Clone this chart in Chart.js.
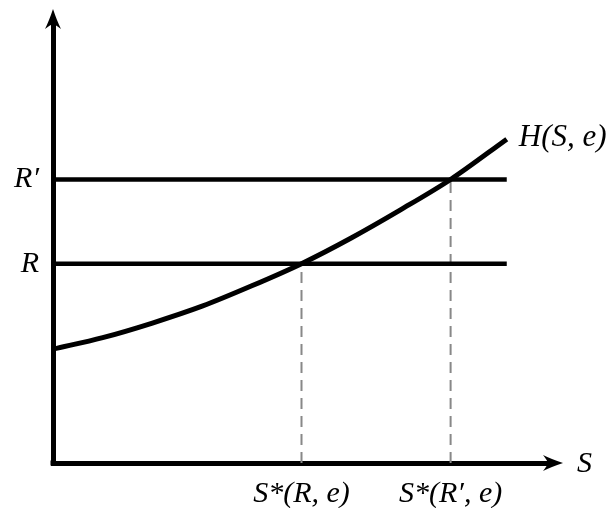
<!DOCTYPE html>
<html>
<head>
<meta charset="utf-8">
<script src="https://cdn.jsdelivr.net/npm/chart.js@4/dist/chart.umd.min.js"></script>
<style>
  body { margin: 0; background: #fff; }
  #wrap { width: 613px; height: 508px; }
</style>
</head>
<body>
<div id="wrap"><canvas id="myChart"></canvas></div>
<script>
// curve H(S, e)
const sValues = [0, 1, 2, 3, 4, 5, 6, 7, 8, 9.13];
const hValues = [2.57, 2.83, 3.16, 3.54, 4.0, 4.5, 5.08, 5.72, 6.4, 7.31];

// reservation levels R, R'
const rLevels = [4.5, 6.4];
const rLabels = ["R", "R\u2032"];

// crossing points S*(R, e), S*(R', e)
const sStar = [5, 8];
const sStarLabels = ["S*(R, e)", "S*(R\u2032, e)"];

const curveLabel = "H(S, e)";
const xAxisLabel = "S";

const serif = "'Liberation Serif', 'DejaVu Serif', serif";
const lineEnd = sValues[sValues.length - 1];

const datasets = [
  {
    label: curveLabel,
    data: sValues.map((s, i) => ({ x: s, y: hValues[i] })),
    borderColor: "#000",
    borderWidth: 5,
    cubicInterpolationMode: "monotone",
    pointRadius: 0,
    order: 1,
  },
];
rLevels.forEach((r, i) => {
  datasets.push({
    label: rLabels[i],
    data: [{ x: 0, y: r }, { x: lineEnd, y: r }],
    borderColor: "#000",
    borderWidth: 4.5,
    pointRadius: 0,
    order: 2,
  });
  datasets.push({
    label: sStarLabels[i],
    data: [{ x: sStar[i], y: 0 }, { x: sStar[i], y: r }],
    borderColor: "#888",
    borderWidth: 2,
    borderDash: [11, 7],
    pointRadius: 0,
    order: 3,
  });
});

function arrowHead(c, x, y, dir) {
  // LaTeX style arrow, dir "up" or "right"
  const len = 20, half = 8, notch = 15;
  c.save();
  c.fillStyle = "#000";
  c.beginPath();
  if (dir === "up") {
    c.moveTo(x, y);
    c.quadraticCurveTo(x + 4, y + 12, x + half, y + len);
    c.quadraticCurveTo(x + 3, y + notch + 1, x, y + notch);
    c.quadraticCurveTo(x - 3, y + notch + 1, x - half, y + len);
    c.quadraticCurveTo(x - 4, y + 12, x, y);
  } else {
    c.moveTo(x, y);
    c.quadraticCurveTo(x - 12, y + 4, x - len, y + half);
    c.quadraticCurveTo(x - notch - 1, y + 3, x - notch, y);
    c.quadraticCurveTo(x - notch - 1, y - 3, x - len, y - half);
    c.quadraticCurveTo(x - 12, y - 4, x, y);
  }
  c.closePath();
  c.fill();
  c.restore();
}

const decorations = {
  id: "decorations",
  afterDraw(chart) {
    const c = chart.ctx;
    const xs = chart.scales.x;
    const ys = chart.scales.y;
    const a = chart.chartArea;
    // square off the corner
    c.fillStyle = "#000";
    c.fillRect(a.left - 2.5, a.bottom - 2.5, 5, 5);
    c.fillRect(a.left - 2.5, 20, 5, a.top - 20 + 1);
    arrowHead(c, a.left, 9, "up");
    arrowHead(c, a.right + 13, a.bottom, "right");

    c.save();
    c.fillStyle = "#000";
    c.font = "italic 31px " + serif;
    c.textBaseline = "middle";
    c.textAlign = "left";
    c.fillText(curveLabel, xs.getPixelForValue(lineEnd) + 12, ys.getPixelForValue(hValues[hValues.length - 1]) - 1);
    c.font = "italic 30px " + serif;
    c.fillText(xAxisLabel, a.right + 27, a.bottom + 1);
    c.restore();
  },
};

const ctx = document.getElementById("myChart").getContext("2d");

const myChart = new Chart(ctx, {
  type: "line",
  data: { datasets: datasets },
  options: {
    responsive: true,
    maintainAspectRatio: false,
    animation: false,
    layout: { padding: { top: 20, right: 63, left: 0, bottom: 0 } },
    plugins: {
      legend: { display: false },
      tooltip: { enabled: false },
    },
    scales: {
      x: {
        type: "linear",
        min: 0,
        max: 10,
        grid: { display: false },
        border: { display: true, color: "#000", width: 5 },
        afterBuildTicks: (scale) => {
          scale.ticks = sStar.map((v) => ({ value: v }));
        },
        afterFit: (scale) => {
          scale.height = 45;
          scale.paddingLeft = 0;
          scale.paddingRight = 0;
        },
        ticks: {
          autoSkip: false,
          maxRotation: 0,
          padding: 5,
          color: "#000",
          font: { family: serif, size: 30, style: "italic" },
          callback: (value, index) => sStarLabels[index],
        },
      },
      y: {
        type: "linear",
        min: 0,
        max: 10,
        grid: { display: false },
        border: { display: true, color: "#000", width: 5 },
        afterBuildTicks: (scale) => {
          scale.ticks = rLevels.map((v) => ({ value: v }));
        },
        afterFit: (scale) => {
          scale.width = 53;
          scale.paddingTop = 0;
          scale.paddingBottom = 0;
        },
        ticks: {
          autoSkip: false,
          padding: 6,
          color: "#000",
          font: { family: serif, size: 30, style: "italic" },
          callback: (value, index) => rLabels[index],
        },
      },
    },
  },
  plugins: [decorations],
});
</script>
</body>
</html>
